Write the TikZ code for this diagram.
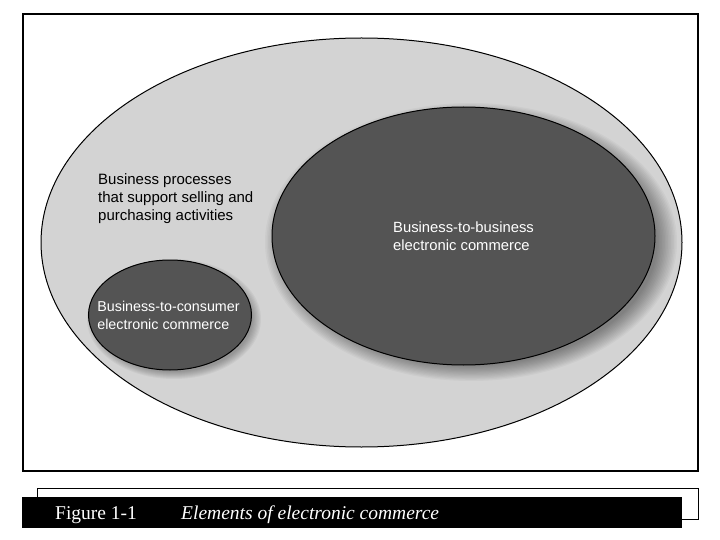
\documentclass[tikz,border=0pt]{standalone}
\usepackage{fontspec}
\setmainfont{Liberation Serif}
\newfontfamily\sansf{Liberation Sans}
\usetikzlibrary{shapes.geometric}
\definecolor{lightfill}{RGB}{211,211,211}
\definecolor{darkfill}{RGB}{84,84,84}
\tikzset{
  outline/.style={draw=black, line width=1pt},
  darkoval/.style={ellipse, outline, fill=darkfill, inner sep=0pt},
  ovaltext/.style={text=white, align=left, inner sep=0pt, font=\sansf\fontsize{14.8}{18}\selectfont},
  bodytext/.style={align=left, font=\sansf\fontsize{15}{18}\selectfont, inner sep=0pt},
  captext/.style={text=white, font=\fontsize{19.5}{21}\selectfont, inner sep=0pt, anchor=base west}
}
\begin{document}
\begin{tikzpicture}[x=1pt,y=-1pt]
\useasboundingbox (0,0) rectangle (720,540);
% frame
\draw[line width=1.8pt] (23,14) rectangle (698,471);
% big ellipse
\node[ellipse, outline, fill=lightfill, minimum width=641pt, minimum height=409pt, inner sep=0pt] (outer) at (361.5,242.5) {};
\node[bodytext, anchor=north west] (proc) at (98,173) {Business processes\\that support selling and\\purchasing activities};
% B2B shadow
\foreach \k in {0,...,13} {
  \fill[black, opacity=0.033] (471,242) ellipse ({206-1.5*\k} and {139-1.2*\k});
}
\node[darkoval, minimum width=383pt, minimum height=258pt] (b2b) at (463.5,236) {};
\node[ovaltext] (b2bt) at (b2b.center) {Business-to-business\\electronic commerce};
% B2C shadow
\foreach \k in {0,...,7} {
  \fill[black, opacity=0.04] (174,319) ellipse ({87-1.2*\k} and {60-1.0*\k});
}
\node[darkoval, minimum width=163pt, minimum height=110pt] (b2c) at (170,315) {};
\node[ovaltext, font=\sansf\fontsize{14.3}{18}\selectfont] (b2ct) at (168.5,315) {Business-to-consumer\\electronic commerce};
% caption
\draw[line width=1pt] (37,488) rectangle (698,519);
\fill[black] (22,497) rectangle (682,528);
\node[captext] (fig) at (55,519.5) {Figure 1-1};
\node[captext, font=\itshape\fontsize{19.5}{21}\selectfont] (cap) at (181,519.5) {Elements of electronic commerce};
\end{tikzpicture}
\end{document}
